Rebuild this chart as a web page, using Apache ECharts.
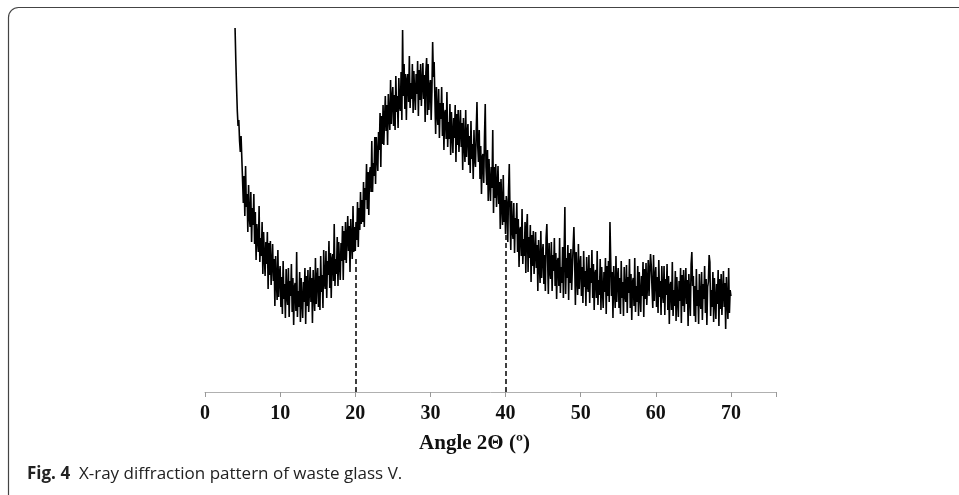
<!DOCTYPE html>
<html>
<head>
<meta charset="utf-8">
<script src="https://cdn.jsdelivr.net/npm/echarts@6/dist/echarts.min.js"></script>
<style>html,body{margin:0;padding:0;background:#fff;}#c{width:959px;height:495px;}</style>
</head>
<body>
<div id="c"></div>
<script>
// 2θ of the first reading and the step between readings (degrees)
const startAngle = 4.0;
const angleStep = 0.1;
// intensity (arbitrary units), 4.0° … 70.0°
const intensity = [
364,332,305,281,266,272,251,240,256,234,
233,189,216,176,226,185,198,160,207,175,
165,200,150,184,167,198,148,180,132,168,
170,140,186,130,154,136,170,118,160,136,
116,150,128,160,103,149,117,151,107,128,
148,111,133,86,136,111,92,142,95,117,
126,85,115,78,131,93,108,74,123,95,
87,124,75,111,96,128,80,114,67,105,
109,81,140,75,101,85,120,70,114,92,
74,110,90,124,68,116,86,122,80,102,
125,90,114,69,122,98,81,134,88,113,
124,85,116,82,136,100,117,84,142,109,
103,141,94,131,117,151,104,139,94,133,
138,111,168,106,133,118,155,106,150,129,
112,149,131,166,112,161,132,170,129,153,
176,141,166,120,173,150,133,186,140,165,
141,170,152,190,145,184,162,200,168,192,
170,210,165,204,192,228,183,220,177,218,
225,200,251,200,229,216,255,208,255,236,
221,260,242,279,225,276,248,287,247,272,
296,261,287,247,298,276,262,312,268,294,
305,266,297,262,316,280,296,264,314,287,
281,320,272,362,296,328,283,318,272,312,
318,290,336,284,309,293,328,279,321,300,
282,318,298,331,276,322,292,328,286,308,
329,293,317,270,320,334,277,328,282,304,
312,272,300,350,315,330,292,258,305,278,
267,303,254,289,273,305,256,289,242,279,
282,253,300,245,270,253,288,237,280,257,
239,274,254,287,230,278,247,282,240,261,
282,245,269,222,274,249,230,282,235,259,
268,227,256,219,271,233,248,213,262,233,
225,261,290,246,230,262,213,246,198,235,
238,209,255,288,225,207,242,191,233,210,
191,225,204,262,179,225,194,228,185,205,
226,188,210,163,213,187,167,217,170,192,
158,196,187,150,201,228,178,142,191,161,
153,189,139,174,158,189,140,173,125,162,
165,136,183,128,153,136,170,119,162,178,
120,155,134,167,110,157,126,161,118,139,
160,124,147,101,152,128,109,161,114,138,
148,108,137,101,154,168,133,98,149,121,
113,150,101,137,121,154,106,139,93,130,
134,106,154,99,125,109,145,94,139,185,
98,134,114,147,92,139,109,143,102,124,
146,165,133,87,140,115,97,148,103,126,
136,96,125,89,141,105,121,86,135,108,
100,137,89,124,109,142,94,128,82,118,
122,94,141,87,112,97,133,82,125,102,
84,120,100,134,78,126,96,131,90,170,
132,96,120,74,126,102,84,136,90,114,
124,84,114,78,131,94,110,76,125,97,
90,127,79,115,99,133,84,118,72,110,
114,86,134,80,106,90,126,76,120,98,
80,116,96,130,75,123,93,129,87,109,
132,96,120,138,126,103,84,137,91,115,
125,85,115,79,132,95,111,77,126,99,
89,126,77,113,97,128,82,116,68,106,
110,82,130,76,102,86,121,71,115,93,
75,111,91,124,69,117,86,122,80,102,
124,88,112,66,118,94,76,128,140,106,
116,76,106,70,123,86,102,68,118,90,
83,120,72,108,93,126,79,113,67,105,
110,137,130,76,102,85,120,70,114,91,
73,108,88,122,66,113,83,118,77,99,
121,85,109,63,115,91,73,124,79,102,
96
];
// dashed guide lines: angle and the intensity where each meets the curve
const guideAngles = [20, 40];
const guideTops = [135, 157];
const xTickLabels = ['0','10','20','30','40','50','60','70'];
const xAxisName = 'Angle 2\u0398 (\u00ba)';
const captionBold = 'Fig. 4';
const captionText = 'X-ray diffraction pattern of waste glass V.';

const seriesData = intensity.map((v, i) => [+(startAngle + i * angleStep).toFixed(1), v]);
const guideLines = guideAngles.map((a, i) => [{ coord: [a, 0] }, { coord: [a, guideTops[i]] }]);

const chart = echarts.init(document.getElementById('c'), null, { renderer: 'canvas' });
chart.setOption({
  animation: false,
  backgroundColor: '#fff',
  title: {
    text: '{b|' + captionBold + '}  ' + captionText,
    left: 22, top: 461,
    textStyle: {
      fontFamily: 'Open Sans', fontSize: 17, fontWeight: 'normal', color: '#222',
      rich: { b: { fontFamily: 'Open Sans', fontSize: 17, fontWeight: 'bold', color: '#222' } }
    }
  },
  graphic: [{
    type: 'rect', silent: true,
    shape: { x: 8.5, y: 7.5, width: 1000, height: 600, r: 10 },
    style: { fill: 'none', stroke: '#444', lineWidth: 1.2 }
  }],
  grid: { left: 205, right: 183, top: 20, bottom: 103 },
  xAxis: {
    type: 'value', min: 0, max: 76, interval: 10,
    splitLine: { show: false },
    axisLine: { lineStyle: { color: '#b0b0b0', width: 1 } },
    axisTick: { show: true, length: 5, lineStyle: { color: '#999' } },
    axisLabel: {
      margin: 12, color: '#111', fontFamily: 'Liberation Serif', fontWeight: 'bold', fontSize: 20,
      formatter: v => xTickLabels.indexOf(String(v)) >= 0 ? String(v) : ''
    },
    name: xAxisName, nameLocation: 'middle', nameGap: 41,
    nameTextStyle: { color: '#111', fontFamily: 'Liberation Serif', fontWeight: 'bold', fontSize: 21, padding: [0, 32, 0, 0] }
  },
  yAxis: { type: 'value', min: 0, max: 372, show: false },
  series: [{
    type: 'line', data: seriesData, showSymbol: false, symbol: 'none',
    sampling: null, silent: true,
    lineStyle: { color: '#000', width: 1.6 },
    markLine: {
      silent: true, symbol: 'none', label: { show: false },
      lineStyle: { color: '#000', type: [5, 3], width: 1.5 },
      data: guideLines
    }
  }]
});
</script>
</body>
</html>
